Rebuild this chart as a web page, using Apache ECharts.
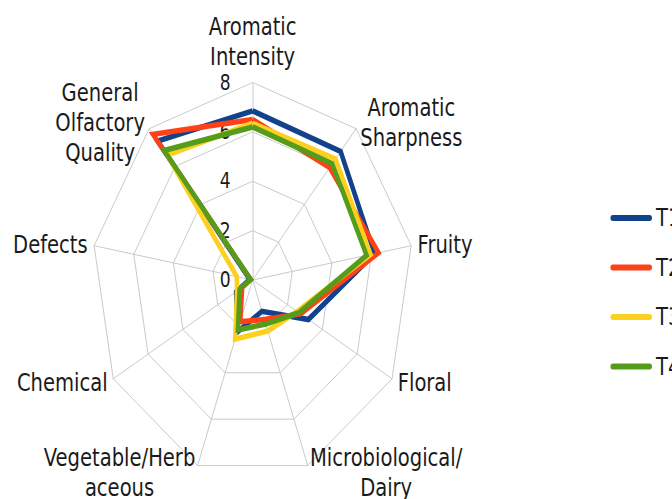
<!DOCTYPE html>
<html>
<head>
<meta charset="utf-8">
<script src="https://cdn.jsdelivr.net/npm/echarts@6/dist/echarts.min.js"></script>
<style>
  html, body { margin: 0; padding: 0; background: #fff; overflow: hidden; }
  /* the original picture is squeezed sideways, so the chart is drawn wider and scaled back */
  #Mycharts {
    width: 825px;
    height: 499px;
    transform: scaleX(0.815);
    transform-origin: 0 0;
  }
</style>
</head>
<body>
<div id="Mycharts"></div>
<script>
// axes, clockwise from the top
const categories = [
  'Aromatic\nIntensity',
  'Aromatic\nSharpness',
  'Fruity',
  'Floral',
  'Microbiological/\nDairy',
  'Vegetable/Herb\naceous',
  'Chemical',
  'Defects',
  'General\nOlfactory\nQuality'
]
const seriesNames = ['T1', 'T2', 'T3', 'T4']
const t1 = [6.85, 6.8, 6.15, 3.2, 1.35, 2.25, 0.95, 0.15, 7.35]
const t2 = [6.5, 5.95, 6.35, 2.75, 1.7, 1.8, 0.6, 0.1, 7.7]
const t3 = [6.35, 6.4, 5.95, 2.55, 2.2, 2.55, 0.9, 0.8, 6.6]
const t4 = [6.2, 6.15, 5.75, 2.65, 1.9, 2.15, 0.75, 0.1, 6.85]
const ticks = [0, 2, 4, 6, 8]
const colors = ['#12428c', '#fe4116', '#fdd020', '#559c1b']

// echarts lays radar axes counter-clockwise, the picture goes clockwise
function ccw (arr) {
  return [arr[0]].concat(arr.slice(1).reverse())
}

const font = 'DejaVu Sans'
const values = [t1, t2, t3, t4]

let Mycharts = echarts.init(document.getElementById('Mycharts'), null, { renderer: 'svg' })
Mycharts.setOption({
  animation: false,
  backgroundColor: '#fff',
  legend: {
    orient: 'vertical',
    left: 744,
    top: 198,
    itemWidth: 51,
    itemHeight: 7,
    itemGap: 19.5,
    icon: 'path://M3,0 L47,0 A3,3 0 0 1 47,6 L3,6 A3,3 0 0 1 3,0 Z',
    textStyle: {
      fontFamily: font,
      fontSize: 24,
      lineHeight: 30,
      color: '#1a1a1a'
    },
    data: seriesNames
  },
  radar: {
    center: [310, 280],
    radius: 197.5,
    shape: 'polygon',
    splitNumber: ticks.length - 1,
    nameGap: 8,
    axisName: {
      color: '#1a1a1a',
      fontFamily: font,
      fontSize: 24,
      lineHeight: 30,
      formatter: function (name) {
        return name.split('\n').map(function (s) { return '{c|' + s + '}' }).join('\n')
      },
      rich: {
        c: {
          align: 'center',
          color: '#1a1a1a',
          fontFamily: font,
          fontSize: 24,
          lineHeight: 30
        }
      }
    },
    axisLine: { lineStyle: { color: '#c4c4c4', width: 1 } },
    splitLine: { lineStyle: { color: '#c4c4c4', width: 1 } },
    splitArea: { show: false },
    axisTick: { show: false },
    axisLabel: { show: false },
    indicator: ccw(categories).map(function (name, i) {
      let ind = { name: name, min: ticks[0], max: ticks[ticks.length - 1] }
      if (i === 0) {
        // tick labels only on the top axis
        ind.axisLabel = {
          show: true,
          margin: 27,
          color: '#1a1a1a',
          fontFamily: font,
          fontSize: 21,
          padding: [6, 0, 0, 0]
        }
      }
      return ind
    })
  },
  series: [
    {
      type: 'radar',
      symbol: 'none',
      data: values.map(function (v, i) {
        return {
          name: seriesNames[i],
          value: ccw(v),
          itemStyle: { color: colors[i] },
          lineStyle: { color: colors[i], width: 5.5, join: 'miter', cap: 'butt' }
        }
      })
    }
  ]
})
</script>
</body>
</html>
